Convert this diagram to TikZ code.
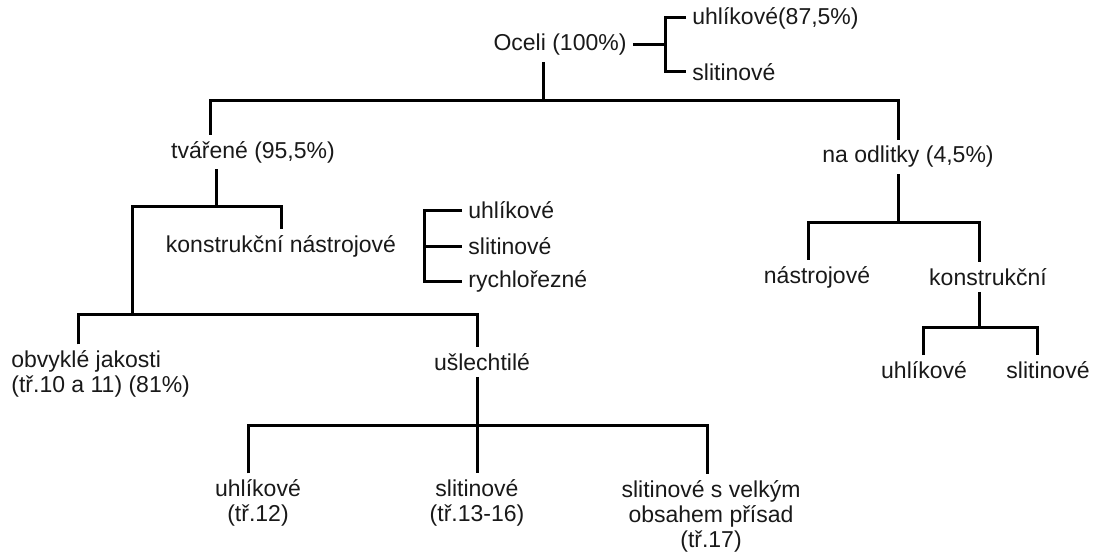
\documentclass[tikz,border=0pt]{standalone}
\usepackage{fontspec}
\setmainfont{Liberation Sans}

\begin{document}
\begin{tikzpicture}[x=0.5pt,y=-0.5pt,
    tree/.style={line width=1.5pt},
    lbl/.style={inner sep=3pt,font=\fontsize{11.5}{12.5}\selectfont,text=black!90}]
    \useasboundingbox (0,0) rectangle (1095,556);
    \node[lbl] (oceli) at (560,45) {Oceli (100\%)};
    \node[lbl,anchor=west] (uhl0) at (686,18) {uhlíkové(87,5\%)};
    \node[lbl,anchor=west] (slit0) at (686,72) {slitinové};
    \node[lbl] (tvarene) at (253,152) {tvářené (95,5\%)};
    \node[lbl] (odlitky) at (908,157) {na odlitky (4,5\%)};
    \node[lbl] (kn) at (281,246) {konstrukční nástrojové};
    \node[lbl,anchor=west] (uhl1) at (462,210) {uhlíkové};
    \node[lbl,anchor=west] (slit1) at (462,246) {slitinové};
    \node[lbl,anchor=west] (rych) at (462,281) {rychlořezné};
    \node[lbl,anchor=west,align=left] (obv) at (5,374) {obvyklé jakosti\\(tř.10 a 11) (81\%)};
    \node[lbl] (usl) at (482,362) {ušlechtilé};
    \node[lbl,align=center] (uhl2) at (258,503) {uhlíkové\\(tř.12)};
    \node[lbl,align=center] (slit2) at (477,503) {slitinové\\(tř.13-16)};
    \node[lbl,align=center] (slit3) at (711,516) {slitinové s velkým\\obsahem přísad\\(tř.17)};
    \node[lbl] (nastr) at (817,277) {nástrojové};
    \node[lbl] (konstr) at (988,277) {konstrukční};
    \node[lbl] (uhl3) at (924,370) {uhlíkové};
    \node[lbl] (slit4) at (1048,370) {slitinové};

    \coordinate (k0) at (665,45);
    \coordinate (k1) at (424,246);
    \coordinate (b1) at (543,100);
    \coordinate (b2) at (216,206);
    \coordinate (b3) at (132,314);
    \coordinate (b4) at (477,425);
    \coordinate (b5) at (898,222);
    \coordinate (b6) at (979,327);

    \draw[tree] (oceli) -- (k0);
    \draw[tree] (uhl0.west) -| (k0) |- (slit0.west);
    \draw[tree] (uhl1.west) -| (k1) |- (rych.west);
    \draw[tree] (k1) -- (slit1.west);
    \draw[tree] (oceli.south -| b1) -- (b1);
    \draw[tree] (tvarene.north -| 210,0) |- (b1) -| (odlitky.north -| b5);
    \draw[tree] (tvarene.south -| b2) -- (b2);
    \draw[tree] (b3) |- (b2) -| (kn.north);
    \draw[tree] (obv.north -| 78,0) |- (b3) -| (usl.north -| b4);
    \draw[tree] (usl.south -| b4) -- (b4);
    \draw[tree] (uhl2.north -| 248,0) |- (b4) -| (slit3.north -| 707,0);
    \draw[tree] (b4) -- (slit2.north);
    \draw[tree] (odlitky.south -| b5) -- (b5);
    \draw[tree] (nastr.north -| 808,0) |- (b5) -| (konstr.north -| b6);
    \draw[tree] (konstr.south -| b6) -- (b6);
    \draw[tree] (uhl3.north -| 923,0) |- (b6) -| (slit4.north -| 1037,0);
\end{tikzpicture}
\end{document}
